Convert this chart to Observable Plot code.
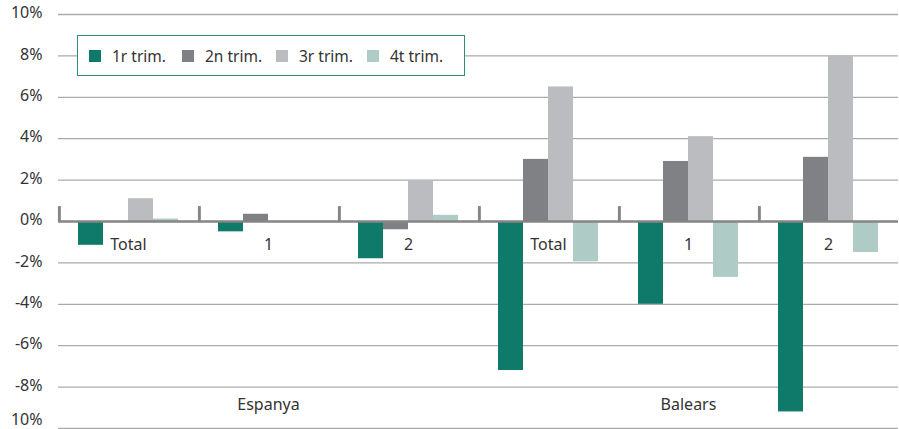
<!DOCTYPE html>
<html>
<head>
<meta charset="utf-8">
<script src="https://cdn.jsdelivr.net/npm/d3@7"></script>
<script src="https://cdn.jsdelivr.net/npm/@observablehq/plot@0.6"></script>
<style>
  html, body { margin: 0; padding: 0; background: #fff; overflow: hidden; }
  #wrap { position: relative; width: 899px; height: 429px; font-family: "Noto Sans", sans-serif; }
  #legend { position: absolute; left: 77px; top: 35px; width: 388px; height: 41px; box-sizing: border-box;
            border: 1.5px solid #2a8f7f; background: #fff; font-size: 15.5px; color: #333; }
  #legend .item { position: absolute; top: 0; height: 100%; display: flex; align-items: center; white-space: nowrap; }
  #legend .sw { width: 12px; height: 12px; margin-right: 11px; }
</style>
</head>
<body>
<div id="wrap"><div id="chart"></div><div id="legend"></div></div>
<script>
// ---- data ----
const groups = ["Espanya", "Balears"];
const subcats = ["Total", "1", "2"];
const quarters = ["1r trim.", "2n trim.", "3r trim.", "4t trim."];
const colors = ["#107a6a", "#808184", "#bbbcbf", "#aecbc5"];
const q1 = [-1.15, -0.5, -1.8, -7.2, -4.0, -9.2];
const q2 = [0.0, 0.35, -0.4, 3.0, 2.9, 3.1];
const q3 = [1.1, 0.0, 1.95, 6.5, 4.1, 8.0];
const q4 = [0.12, 0.0, 0.3, -1.95, -2.7, -1.5];
const yTicks = [-10, -8, -6, -4, -2, 0, 2, 4, 6, 8, 10];

// ---- build table ----
const series = [q1, q2, q3, q4];
const cats = groups.flatMap(g => subcats.map(s => g + " " + s));
const subOf = c => c.split(" ")[1];
const rows = cats.flatMap((c, i) => quarters.map((q, j) => ({cat: c, quarter: q, value: series[j][i]})));
const fmt = d => d === -10 ? "10%" : (d < 0 ? "-" + (-d) : d) + "%";

const W = 899, H = 429, ML = 56, MR = 0;
const PO = 0.8;
const facetW = (W - ML - MR) / cats.length;
const step = facetW / (quarters.length + 2 * PO);
const outerPx = PO * step;
const txt = {fill: "#333", fontSize: 16, letterSpacing: "0.3px"};

const chart = Plot.plot({
  width: W, height: H,
  marginLeft: ML, marginRight: MR, marginTop: 14, marginBottom: 1,
  style: {fontFamily: "Noto Sans, sans-serif", fontSize: "16px", color: "#333", background: "transparent"},
  fx: {domain: cats, padding: 0, axis: null},
  x: {domain: quarters, paddingInner: 0, paddingOuter: PO, axis: null},
  y: {domain: [-10, 10], axis: null},
  color: {domain: quarters, range: colors},
  marks: [
    Plot.ruleY(yTicks.filter(d => d !== 0), {stroke: "#aaa", strokeWidth: 1.3}),
    Plot.barY(rows, {fx: "cat", x: "quarter", y: "value", fill: "quarter"}),
    Plot.ruleY([0], {stroke: "#858585", strokeWidth: 2.5}),
    Plot.barY(cats, {fx: d => d, x: () => quarters[0], y1: 0, y2: 0.72, dx: -outerPx,
                     insetRight: step - 3, fill: "#858585"}),
    Plot.text(cats, {fx: d => d, text: subOf, y: 0, dy: 23, ...txt}),
    Plot.text(groups, {fx: g => g + " 1", text: d => d, frameAnchor: "bottom", dy: -19, ...txt}),
    // y tick labels
    Plot.text(yTicks.filter(d => d !== -10), {fx: () => cats[0], y: d => d, text: fmt, frameAnchor: "left",
              textAnchor: "end", dx: -16, dy: -1.5, ...txt, letterSpacing: "0px"}),
    Plot.text([-10], {fx: () => cats[0], y: d => d, text: fmt, frameAnchor: "left",
              textAnchor: "end", dx: -16, dy: -9, ...txt, letterSpacing: "0px"})
  ]
});
document.getElementById("chart").appendChild(chart);

// ---- legend ----
const legLeft = [11, 104, 198, 289];
const leg = document.getElementById("legend");
quarters.forEach((q, i) => {
  const it = document.createElement("div");
  it.className = "item";
  it.style.left = legLeft[i] + "px";
  const sw = document.createElement("span");
  sw.className = "sw";
  sw.style.background = colors[i];
  const tx = document.createElement("span");
  tx.textContent = q;
  it.appendChild(sw); it.appendChild(tx);
  leg.appendChild(it);
});
</script>
</body>
</html>
